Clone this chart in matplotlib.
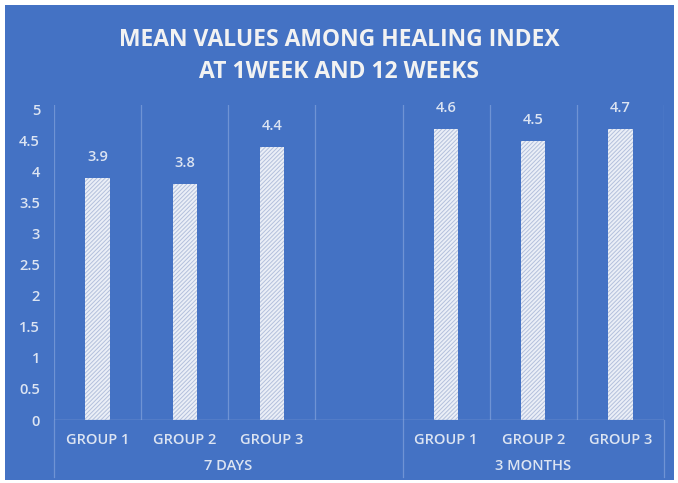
import matplotlib
matplotlib.use('Agg')
import matplotlib.pyplot as plt
import matplotlib.transforms as mtransforms
from matplotlib.patches import Rectangle

plt.rcParams['font.family'] = ['Open Sans', 'DejaVu Sans']
plt.rcParams['hatch.linewidth'] = 0.7

# ── Data ──────────────────────────────────────────────────────────
groups = ['GROUP 1', 'GROUP 2', 'GROUP 3', '', 'GROUP 1', 'GROUP 2', 'GROUP 3']
periods = ['7 DAYS', '3 MONTHS']
bar_slots = [0, 1, 2, 4, 5, 6]          # slot 3 is empty in the source chart
bar_values = [3.9, 3.8, 4.4, 4.7, 4.5, 4.7]
bar_labels = ['3.9', '3.8', '4.4', '4.6', '4.5', '4.7']
yticks = [0, 0.5, 1, 1.5, 2, 2.5, 3, 3.5, 4, 4.5, 5]

BG = '#4472C4'
GRID = '#6F93D4'
TXT = '#DCE4F2'

fig = plt.figure(figsize=(6.78, 4.83), dpi=100)
fig.patch.set_facecolor('white')
fig.patches.append(Rectangle((5 / 678, 3 / 483), 669 / 678, 475 / 483,
                             transform=fig.transFigure, facecolor=BG,
                             edgecolor='none', zorder=-1))

ax = fig.add_axes([54 / 678, 63 / 483, 610 / 678, 315 / 483])
ax.set_facecolor(BG)
for s in ax.spines.values():
    s.set_visible(False)

ax.bar(bar_slots, bar_values, width=0.28, color='#EBEFF7', edgecolor='#B3C0DC',
       hatch='////////', linewidth=0, zorder=3)
for x, v, lab in zip(bar_slots, bar_values, bar_labels):
    ax.annotate(lab, (x, v), xytext=(0, 10), textcoords='offset points',
                ha='center', va='bottom', color=TXT, fontsize=10.5,
                fontweight='semibold')

ax.set_xlim(-0.5, 6.5)
ax.set_ylim(0, 5.08)
ax.set_yticks(yticks)
ax.set_yticklabels(['%g' % t for t in yticks])
ax.tick_params(axis='y', length=0, colors=TXT, labelsize=10.5, pad=10)
for t in ax.get_yticklabels():
    t.set_fontweight('semibold')
ax.set_xticks(range(len(groups)))
ax.set_xticklabels(groups)
ax.tick_params(axis='x', length=0, colors=TXT, labelsize=10.5, pad=9)
for t in ax.get_xticklabels():
    t.set_fontweight('semibold')

# vertical category gridlines
for k in range(8):
    ax.axvline(k - 0.5, color=GRID, linewidth=0.9, zorder=1)
ax.axhline(0, color='#8FAADC', linewidth=1, zorder=4)

# long separators for the period groups and their labels
trans = mtransforms.blended_transform_factory(ax.transData, ax.transAxes)
for xs in [-0.5, 3.5, 6.5]:
    ax.plot([xs, xs], [0, -0.18], transform=trans, color=GRID,
            linewidth=0.9, clip_on=False)
for xc, p in zip([1.5, 5], periods):
    ax.text(xc, -0.145, p, transform=trans, ha='center', va='center',
            color=TXT, fontsize=10.5, fontweight='semibold')

fig.text(0.5, 1 - 40 / 483, 'MEAN VALUES AMONG HEALING INDEX', ha='center',
         va='center', color='#F2F2F2', fontsize=16.5, fontweight='bold')
fig.text(0.5, 1 - 72 / 483, 'AT 1WEEK AND 12 WEEKS', ha='center',
         va='center', color='#F2F2F2', fontsize=16.5, fontweight='bold')

fig.savefig('out.png', dpi=100, facecolor=fig.get_facecolor())
